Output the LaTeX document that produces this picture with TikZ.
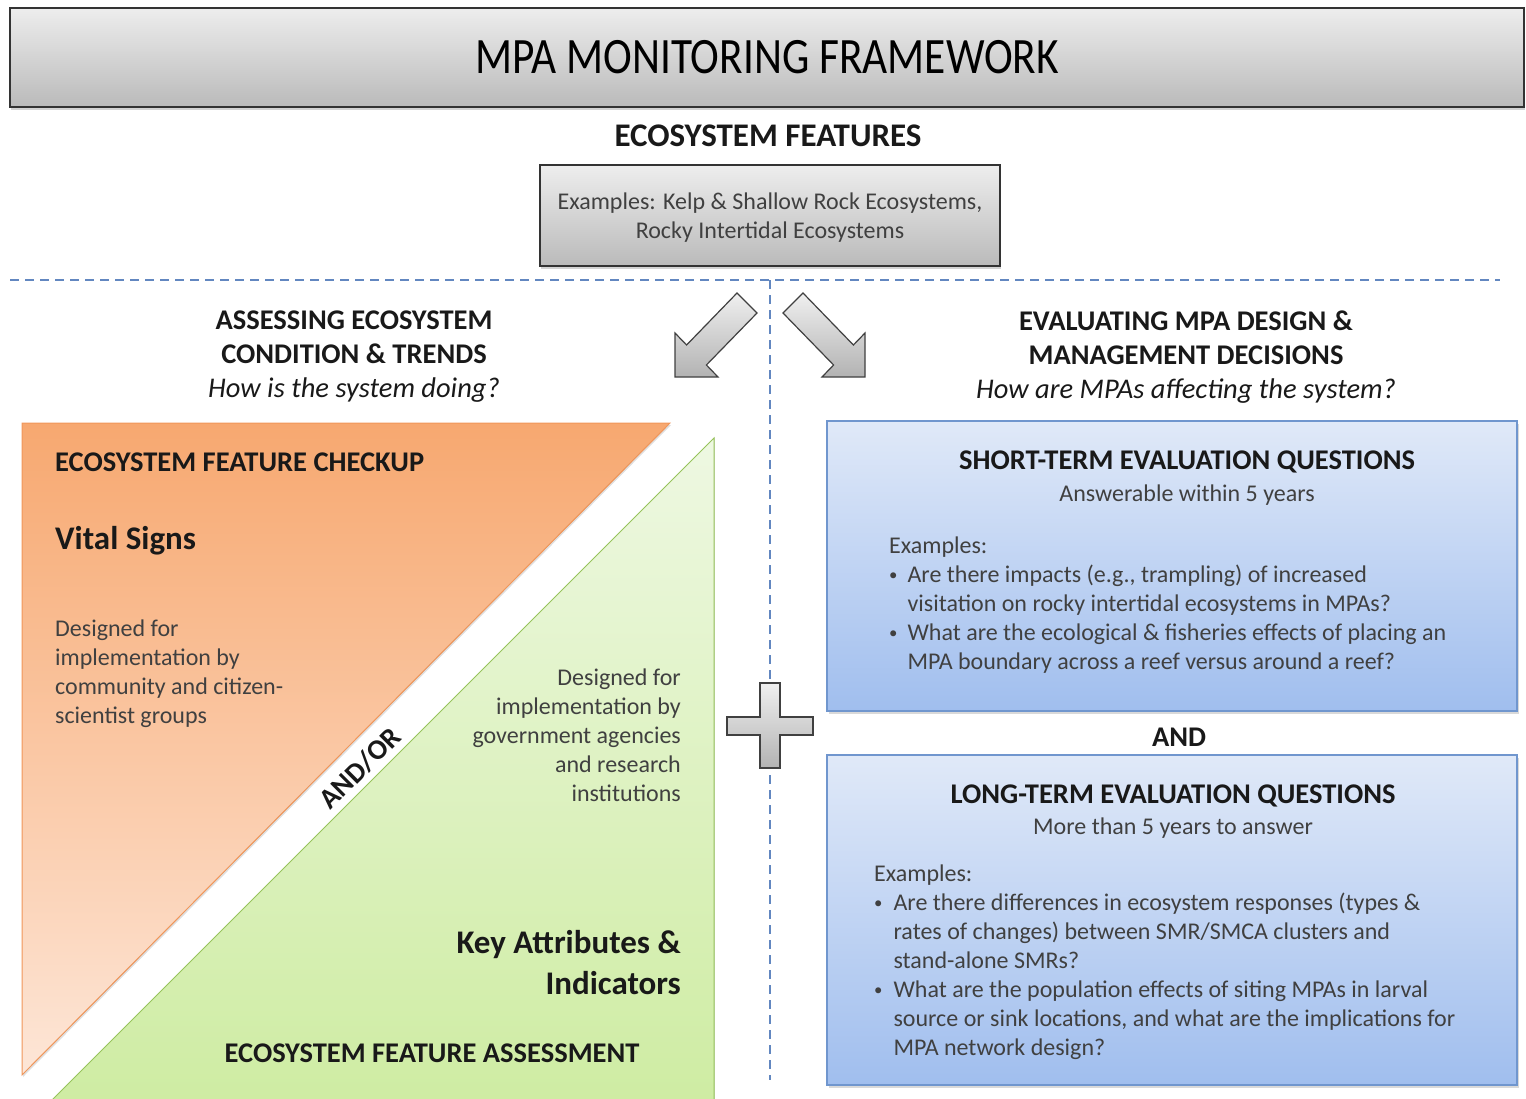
\documentclass[tikz,border=0pt]{standalone}
\usepackage{fontspec}
\setmainfont{Carlito}
\usetikzlibrary{positioning,shadows}

\definecolor{dashblue}{RGB}{98,135,192}
\definecolor{orangetop}{RGB}{247,168,112}
\definecolor{orangebot}{RGB}{253,230,215}
\definecolor{orangeline}{RGB}{240,150,90}
\definecolor{greentop}{RGB}{238,248,226}
\definecolor{greenbot}{RGB}{206,236,162}
\definecolor{greenline}{RGB}{150,195,90}
\definecolor{bluetop}{RGB}{224,233,248}
\definecolor{bluebot}{RGB}{160,190,238}
\definecolor{blueline}{RGB}{112,150,206}
\definecolor{inktext}{RGB}{25,25,25}
\definecolor{softtext}{RGB}{64,64,64}

\newcommand{\dotitem}{\raisebox{2pt}{\scalebox{0.7}{\textbullet}}}

\begin{document}
\begin{tikzpicture}[x=1pt, y=-1pt,
    head/.style={font=\bfseries\fontsize{28.5}{34}\selectfont, text=inktext, inner sep=0pt},
    body/.style={font=\fontsize{24}{29}\selectfont, text=softtext, inner sep=0pt},
    greybox/.style={draw=black!80, line width=1.5pt, top color=black!7, bottom color=black!27,
        drop shadow={shadow xshift=1pt, shadow yshift=-3pt, opacity=0.35}},
    bluebox/.style={draw=blueline, line width=1.2pt, top color=bluetop, bottom color=bluebot,
        minimum width=690pt, drop shadow={shadow xshift=2pt, shadow yshift=-3pt, opacity=0.3}},
    greyshape/.style={draw=black!75, line width=1.2pt, top color=black!6, bottom color=black!30},
    divider/.style={dashblue, line width=2.4pt, dash pattern=on 9pt off 6pt}]

    \useasboundingbox (0,0) rectangle (1526,1098);

    \node[greybox, minimum width=1514pt, minimum height=99pt] (title) at (767,57.5)
        {\fontsize{51}{60}\selectfont\scalebox{0.85}[1]{MPA MONITORING FRAMEWORK}};
    \node[head, font=\bfseries\fontsize{33}{38}\selectfont] (features) at (768,136) {ECOSYSTEM FEATURES};
    \node[greybox, line width=1.2pt, minimum width=460pt, minimum height=101pt] (examples) at (770,215.5) {};
    \node[body, align=center] (kelp) at (770,218)
        {Examples: Kelp \& Shallow Rock Ecosystems,\\Rocky Intertidal Ecosystems};

    \draw[divider] (10,280) -- (1500,280);
    \draw[divider] (770,280) -- (770,1080);

    \draw[greyshape] (675,377) -- (675,333) -- (686.6,345) -- (737,293) -- (757,313)
        -- (706.4,365) -- (718,377) -- cycle;
    \draw[greyshape] (865,377) -- (865,333) -- (853.4,345) -- (803,293) -- (783,313)
        -- (833.6,365) -- (822,377) -- cycle;

    \node[head, align=center, font=\fontsize{28.5}{34}\selectfont, anchor=north] (assess) at (354,311)
        {\textbf{ASSESSING ECOSYSTEM}\\\textbf{CONDITION \& TRENDS}\\\textit{How is the system doing?}};
    \node[head, align=center, font=\fontsize{28.5}{34}\selectfont, anchor=north] (evaluate) at (1186,311)
        {\textbf{EVALUATING MPA DESIGN \&}\\\textbf{MANAGEMENT DECISIONS}\\\textit{How are MPAs affecting the system?}};

    \fill[top color=orangetop, bottom color=orangebot, draw=orangeline, line width=1pt,
        drop shadow={shadow xshift=1pt, shadow yshift=-2pt, opacity=0.25}]
        (22,423) -- (670,423) -- (22,1075) -- cycle;
    \fill[top color=greentop, bottom color=greenbot, draw=greenline, line width=1pt]
        (714,438) -- (714,1110) -- (42,1110) -- cycle;

    \node[head, anchor=west] (checkup) at (55,462) {ECOSYSTEM FEATURE CHECKUP};
    \node[head, font=\bfseries\fontsize{33}{40}\selectfont, anchor=west] (vital) at (55,541) {Vital Signs};
    \node[body, align=left, anchor=north west] (citizen) at (55,620)
        {Designed for\\implementation by\\community and citizen-\\scientist groups};
    \node[head, rotate=45] (andor) at (360,768) {AND/OR};
    \node[body, align=right, anchor=north east] (agency) at (681,669)
        {Designed for\\implementation by\\government agencies\\and research\\institutions};
    \node[head, font=\bfseries\fontsize{33}{41}\selectfont, align=right, anchor=north east] (key) at (681,930)
        {Key Attributes \&\\Indicators};
    \node[head] (assessment) at (432,1053) {ECOSYSTEM FEATURE ASSESSMENT};

    \draw[greyshape] (760,683) -- (780,683) -- (780,717) -- (813,717) -- (813,735) -- (780,735)
        -- (780,768) -- (760,768) -- (760,735) -- (727,735) -- (727,717) -- (760,717) -- cycle;

    \node[bluebox, minimum height=290pt] (short) at (1172,566) {};
    \node[head] (shorttitle) at (1187,462) {SHORT-TERM EVALUATION QUESTIONS};
    \node[body] (shortsub) at (1187,495) {Answerable within 5 years};
    \node[body, anchor=north west] (shortlist) at (889,533)
        {\begin{tabular}{@{}l@{\hspace{10pt}}l@{}}
            \multicolumn{2}{@{}l}{Examples:}\\
            \dotitem & Are there impacts (e.g., trampling) of increased\\
                     & visitation on rocky intertidal ecosystems in MPAs?\\
            \dotitem & What are the ecological \& fisheries effects of placing an\\
                     & MPA boundary across a reef versus around a reef?
        \end{tabular}};

    \node[head] (and) at (1179,737) {AND};

    \node[bluebox, minimum height=330pt] (long) at (1172,920) {};
    \node[head] (longtitle) at (1173,796) {LONG-TERM EVALUATION QUESTIONS};
    \node[body] (longsub) at (1173,828) {More than 5 years to answer};
    \node[body, anchor=north west] (longlist) at (874,861)
        {\begin{tabular}{@{}l@{\hspace{11pt}}l@{}}
            \multicolumn{2}{@{}l}{Examples:}\\
            \dotitem & Are there differences in ecosystem responses (types \&\\
                     & rates of changes) between SMR/SMCA clusters and\\
                     & stand-alone SMRs?\\
            \dotitem & What are the population effects of siting MPAs in larval\\
                     & source or sink locations, and what are the implications for\\
                     & MPA network design?
        \end{tabular}};
\end{tikzpicture}
\end{document}
